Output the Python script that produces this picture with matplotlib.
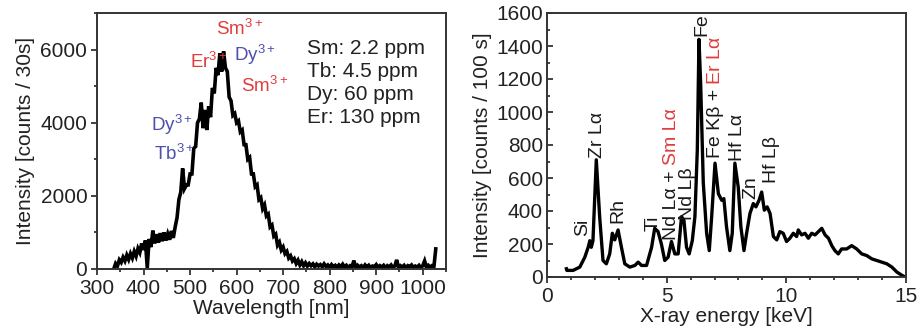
import numpy as np
import matplotlib
matplotlib.use("Agg")
import matplotlib.pyplot as plt
from matplotlib.ticker import MultipleLocator

plt.rcParams['font.family'] = ['Liberation Sans', 'DejaVu Sans']
plt.rcParams['mathtext.fontset'] = 'custom'
plt.rcParams['mathtext.rm'] = 'Liberation Sans'
plt.rcParams['mathtext.default'] = 'regular'

# ---- Left panel: luminescence spectrum ----
wl_start = 336
wl_step = 4
lum_counts = [
    0, 150, 80, 250, 180, 320, 220, 380, 260, 420, 300, 480, 350, 560, 450, 700,
    520, 780, 30, 820, 600, 1050, 700, 950, 720, 980, 760, 1000, 780, 960, 800, 1040,
    850, 1150, 1400, 1900, 2100, 2750, 2200, 2300, 2300, 2600, 2600, 3300, 3350, 4000,
    4100, 4550, 3850, 4350, 3800, 4450, 4150, 4950, 4800, 5500, 5300, 5900, 5400, 5950,
    5500, 5400, 4700, 4600, 4200, 4250, 4000, 4050, 3750, 3800, 3400, 3400, 3000, 3050,
    2600, 2600, 2250, 2300, 1900, 1950, 1650, 1750, 1450, 1500, 1150, 1200, 900, 950,
    650, 730, 520, 600, 420, 480, 300, 360, 220, 280, 150, 240, 110, 200, 90, 170, 80,
    150, 90, 140, 60, 130, 80, 120, 60, 140, 70, 110, 50, 120, 60, 100, 40,
    110, 60, 130, 50, 100, 40, 90, 60, 230, 40, 100, 50, 90, 40, 110, 50,
    100, 30, 80, 60, 120, 40, 90, 50, 100, 30, 90, 50, 110, 40, 80, 250,
    40, 90, 50, 100, 30, 90, 60, 110, 40, 80, 50, 100, 30, 90, 220, 40,
    100, 50, 90, 60, 550,
]
wavelength = wl_start + wl_step * np.arange(len(lum_counts))

left_xticks = [300, 400, 500, 600, 700, 800, 900, 1000]
left_yticks = [0, 2000, 4000, 6000]
conc_lines = ["Sm: 2.2 ppm", "Tb: 4.5 ppm", "Dy: 60 ppm", "Er: 130 ppm"]
ion_labels = ["Sm", "Er", "Dy", "Sm", "Dy", "Tb"]
ion_colors = ["red", "red", "blue", "red", "blue", "blue"]
ion_pos = [(555, 6560), (500, 5650), (594, 5850), (610, 5000), (417, 3950), (422, 3150)]

# ---- Right panel: XRF spectrum ----
energy = [0.81, 0.83, 1.09, 1.37, 1.58, 1.72, 1.79, 1.85, 1.92, 2.06, 2.2, 2.34, 2.48,
          2.62, 2.73, 2.83, 2.97, 3.11, 3.25, 3.46, 3.67, 3.81, 3.95, 4.16, 4.37, 4.5,
          4.64, 4.78, 4.92, 5.06, 5.2, 5.34, 5.48, 5.62, 5.72, 5.83, 5.94, 6.07, 6.18,
          6.28, 6.35, 6.42, 6.53, 6.67, 6.78, 6.88, 7.02, 7.16, 7.3, 7.39, 7.5, 7.64,
          7.74, 7.85, 7.99, 8.1, 8.23, 8.34, 8.48, 8.62, 8.73, 8.86, 8.97, 9.08, 9.2,
          9.32, 9.46, 9.6, 9.73, 9.87, 10.01, 10.15, 10.29, 10.43, 10.5, 10.64, 10.78,
          10.92, 11.06, 11.2, 11.34, 11.48, 11.62, 11.76, 11.9, 12.03, 12.17, 12.31,
          12.52, 12.73, 12.94, 13.15, 13.36, 13.57, 13.78, 13.99, 14.2, 14.41, 14.62,
          14.83, 14.97]
xrf_counts = [50, 40, 40, 60, 120, 180, 220, 180, 220, 710, 365, 100, 80,
              140, 265, 225, 285, 180, 80, 60, 70, 90, 70, 70, 180, 295,
              275, 200, 100, 120, 215, 140, 140, 365, 345, 180, 140, 220, 365,
              770, 1440, 1175, 570, 265, 160, 365, 690, 505, 465, 475, 305, 160,
              265, 690, 545, 305, 160, 265, 385, 445, 425, 465, 515, 405, 425,
              385, 245, 225, 275, 265, 215, 235, 265, 245, 285, 255, 265,
              235, 265, 255, 275, 295, 255, 235, 190, 160, 140, 170,
              170, 190, 170, 140, 130, 110, 100, 90, 80, 60, 30,
              10, 0]

right_xticks = [0, 5, 10, 15]
right_yticks = [0, 200, 400, 600, 800, 1000, 1200, 1400, 1600]
# rotated peak labels: (pieces, x keV, bottom counts)
peak_labels = [
    ([("Si", "k")], 1.47, 250),
    ([("Zr Lα", "k")], 2.1, 720),
    ([("Rh", "k")], 2.95, 330),
    ([("Ti", "k")], 4.45, 280),
    ([("Nd Lα + ", "k"), ("Sm Lα", "red")], 5.2, 225),
    ([("Nd Lβ", "k")], 5.85, 345),
    ([("Fe", "k")], 6.48, 1460),
    ([("Fe Kβ + ", "k"), ("Er Lα", "red")], 7.06, 720),
    ([("Hf Lα", "k")], 7.98, 705),
    ([("Zn", "k")], 8.5, 470),
    ([("Hf Lβ", "k")], 9.38, 570),
]

RED = "#e03c3c"
BLUE = "#4f4fae"
cmap = {"red": RED, "blue": BLUE, "k": "#1a1a1a"}

fig = plt.figure(figsize=(9.19, 3.35), dpi=100)
ax1 = fig.add_axes([97 / 919, 1 - 269 / 335, (446 - 97) / 919, (269 - 13) / 335])
ax2 = fig.add_axes([547 / 919, 1 - 277 / 335, (906 - 547) / 919, (277 - 13) / 335])

for ax in (ax1, ax2):
    for s in ax.spines.values():
        s.set_linewidth(1.4)
        s.set_color("#333333")

# left
ax1.plot(wavelength, lum_counts, color="black", lw=2.6, solid_joinstyle="miter")
ax1.set_xlim(300, 1050)
ax1.set_ylim(0, 7000)
ax1.set_xticks(left_xticks)
ax1.set_yticks(left_yticks)
ax1.xaxis.set_minor_locator(MultipleLocator(50))
ax1.yaxis.set_minor_locator(MultipleLocator(1000))
ax1.tick_params(which="both", direction="out", labelsize=15, colors="#222222", width=1.2)
ax1.tick_params(which="major", length=4, pad=3)
ax1.tick_params(which="minor", length=2.5)
ax1.set_xlabel("Wavelength [nm]", fontsize=15, color="#222222", labelpad=1)
ax1.set_ylabel("Intensity [counts / 30s]", fontsize=15, color="#222222", labelpad=4)

for i, line in enumerate(conc_lines):
    ax1.text(0.603, 0.86 - i * 0.09, line, transform=ax1.transAxes, fontsize=15,
             color="#222222", va="center", ha="left")
for lab, c, (x, y) in zip(ion_labels, ion_colors, ion_pos):
    ax1.text(x, y, lab + "$^{3+}$", color=cmap[c], fontsize=13.5, ha="left", va="center")

# right
ax2.plot(energy, xrf_counts, color="black", lw=2.4)
ax2.set_xlim(0, 15)
ax2.set_ylim(0, 1600)
ax2.set_xticks(right_xticks)
ax2.set_yticks(right_yticks)
ax2.xaxis.set_minor_locator(MultipleLocator(1))
ax2.yaxis.set_minor_locator(MultipleLocator(100))
ax2.tick_params(which="both", labelsize=15, colors="#222222", width=1.2)
ax2.tick_params(axis="y", which="both", direction="in")
ax2.tick_params(axis="x", which="both", direction="out")
ax2.tick_params(which="major", length=4, pad=3)
ax2.tick_params(which="minor", length=2.5)
ax2.set_xlabel("X-ray energy [keV]", fontsize=15, color="#222222", labelpad=1)
ax2.set_ylabel("Intensity [counts / 100 s]", fontsize=15, color="#222222", labelpad=3)

fig.canvas.draw()
renderer = fig.canvas.get_renderer()
for pieces, x, y in peak_labels:
    cur_y = y
    for txt, c in pieces:
        t = ax2.text(x, cur_y, txt, rotation=90, color=cmap[c], fontsize=14,
                     ha="center", va="bottom")
        bb = t.get_window_extent(renderer)
        cur_y = ax2.transData.inverted().transform((0, bb.y1))[1]

fig.savefig("out.png", dpi=100)
